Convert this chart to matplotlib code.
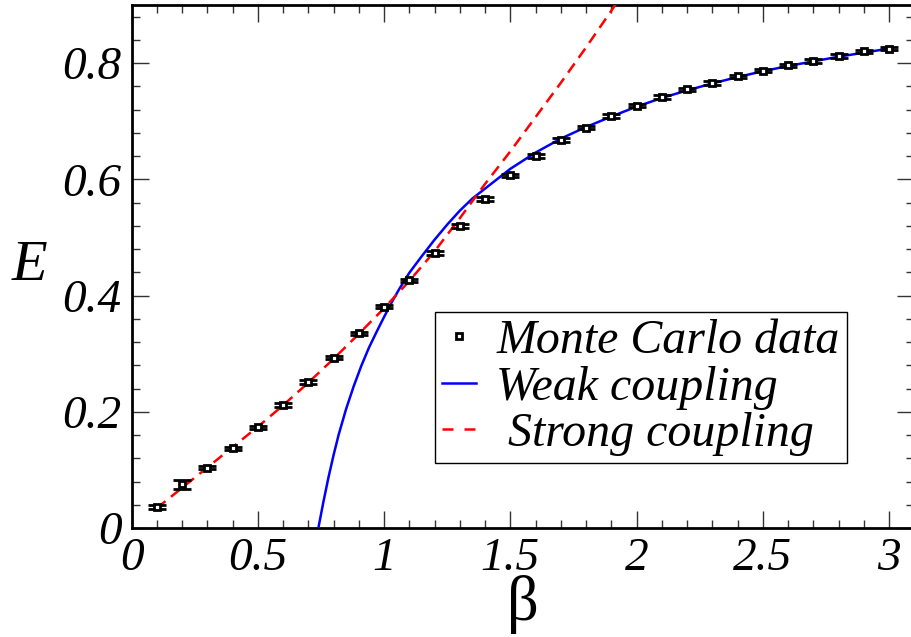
import matplotlib
matplotlib.use("Agg")
import matplotlib.pyplot as plt
from matplotlib.ticker import MultipleLocator
from matplotlib.lines import Line2D

# ---- data ----
beta_mc = [0.1, 0.2, 0.3, 0.4, 0.5, 0.6, 0.7, 0.8, 0.9, 1.0,
           1.1, 1.2, 1.3, 1.4, 1.5, 1.6, 1.7, 1.8, 1.9, 2.0,
           2.1, 2.2, 2.3, 2.4, 2.5, 2.6, 2.7, 2.8, 2.9, 3.0]
E_mc = [0.036, 0.075, 0.104, 0.137, 0.173, 0.212, 0.251, 0.293, 0.335, 0.381,
        0.426, 0.473, 0.520, 0.566, 0.607, 0.640, 0.668, 0.689, 0.709, 0.727,
        0.742, 0.755, 0.766, 0.777, 0.787, 0.796, 0.804, 0.812, 0.820, 0.825]
E_err = [0.003, 0.008, 0.003, 0.003, 0.003, 0.003, 0.003, 0.003, 0.003, 0.003,
         0.003, 0.003, 0.003, 0.003, 0.003, 0.003, 0.003, 0.003, 0.003, 0.003,
         0.003, 0.003, 0.003, 0.003, 0.003, 0.003, 0.003, 0.003, 0.003, 0.003]

beta_weak = [0.74, 0.76, 0.78, 0.80, 0.82, 0.85, 0.88, 0.91, 0.94, 0.97,
             1.00, 1.03, 1.06, 1.10, 1.15, 1.20, 1.25, 1.30, 1.35, 1.40,
             1.45, 1.50, 1.60, 1.70, 1.80, 1.90, 2.00, 2.10, 2.20, 2.30,
             2.40, 2.50, 2.60, 2.70, 2.80, 2.90, 3.00]
E_weak = [0.000, 0.045, 0.087, 0.125, 0.160, 0.205, 0.244, 0.279, 0.310, 0.337,
          0.363, 0.388, 0.411, 0.439, 0.468, 0.496, 0.522, 0.546, 0.567, 0.584,
          0.601, 0.618, 0.646, 0.670, 0.690, 0.708, 0.725, 0.740, 0.753, 0.765,
          0.776, 0.786, 0.795, 0.803, 0.811, 0.818, 0.825]

beta_strong = [0.1, 0.2, 0.3, 0.4, 0.5, 0.6, 0.7, 0.8, 0.9, 1.0,
               1.1, 1.2, 1.3, 1.4, 1.5, 1.6, 1.7, 1.8, 1.9, 2.0]
E_strong = [0.034, 0.069, 0.104, 0.139, 0.174, 0.211, 0.250, 0.291, 0.334, 0.378,
            0.425, 0.476, 0.533, 0.592, 0.648, 0.707, 0.766, 0.827, 0.890, 0.955]

xticks = [0, 0.5, 1, 1.5, 2, 2.5, 3]
xticklabels = ["0", "0.5", "1", "1.5", "2", "2.5", "3"]
yticks = [0, 0.2, 0.4, 0.6, 0.8]
yticklabels = ["0", "0.2", "0.4", "0.6", "0.8"]

serif = ["Liberation Serif", "DejaVu Serif"]
plt.rcParams["font.family"] = serif

W, H = 911, 637
fig = plt.figure(figsize=(W / 100, H / 100), dpi=100)
x0, x1 = 131.5, 914.3
ytop, ybot = 5.0, 528.0
ax = fig.add_axes([x0 / W, (H - ybot) / H, (x1 - x0) / W, (ybot - ytop) / H])

ax.plot(beta_weak, E_weak, color="#0000ff", lw=1.8, zorder=3)
ax.plot(beta_strong, E_strong, color="#ff0000", lw=1.8, ls=(0, (4.5, 2.8)), zorder=3)
ax.errorbar(beta_mc, E_mc, yerr=E_err, fmt="s", ms=5, mfc="white", mec="black",
            mew=2.0, ecolor="black", elinewidth=1.8, capsize=6.5, capthick=2.6, zorder=4)

ax.set_xlim(0, 3.1)
ax.set_ylim(0, 0.9)
ax.set_xticks(xticks)
ax.set_xticklabels(xticklabels)
ax.set_yticks(yticks)
ax.set_yticklabels(yticklabels)
ax.xaxis.set_minor_locator(MultipleLocator(0.1))
ax.yaxis.set_minor_locator(MultipleLocator(0.04))
ax.tick_params(which="both", direction="in", top=True, right=True, width=1.0, color="#333333")
ax.tick_params(which="major", length=12, labelsize=34, pad=7)
ax.tick_params(which="minor", length=6)
for lab in ax.get_xticklabels() + ax.get_yticklabels():
    lab.set_fontstyle("italic")
for sp in ax.spines.values():
    sp.set_linewidth(2.0)

ax.set_xlabel("β", fontsize=45, labelpad=-4)
ax.set_ylabel("E", fontsize=42, fontstyle="italic", rotation=0, labelpad=24, va="center")

handles = [
    Line2D([], [], ls="none", marker="s", ms=5, mfc="white", mec="black", mew=2.0),
    Line2D([], [], color="#0000ff", lw=1.8),
    Line2D([], [], color="#ff0000", lw=1.8, ls=(0, (4.4, 4.4))),
]
labels = ["Monte Carlo data", "Weak coupling", " Strong coupling"]
leg = ax.legend(handles, labels, loc="lower left", bbox_to_anchor=(0.388, 0.124),
                prop={"family": serif, "style": "italic", "size": 34.5},
                frameon=True, fancybox=False, shadow=False, edgecolor="black",
                framealpha=1, handlelength=0.7, handletextpad=0.42,
                labelspacing=0.05, borderpad=0.15, borderaxespad=0)
leg.get_frame().set_linewidth(1.0)

fig.savefig("out.png", dpi=100)
